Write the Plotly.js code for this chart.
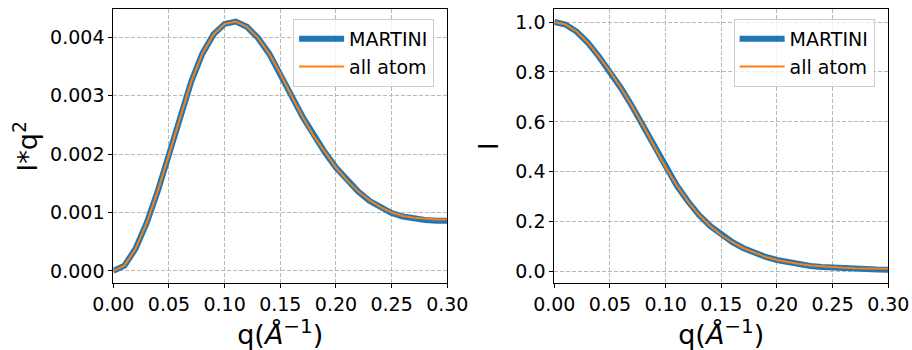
<!DOCTYPE html>
<html>
<head>
<meta charset="utf-8">
<script src="https://cdn.plot.ly/plotly-3.0.1.min.js"></script>
<style>html,body{margin:0;padding:0;background:#fff}#chart{width:912px;height:350px}</style>
</head>
<body>
<div id="chart"></div>
<script>
// q values (1/Angstrom)
const q = [0.00,0.01,0.02,0.03,0.04,0.05,0.06,0.07,0.08,0.09,0.10,0.11,0.12,0.13,0.14,0.15,
           0.16,0.17,0.18,0.19,0.20,0.21,0.22,0.23,0.24,0.25,0.26,0.27,0.28,0.29,0.30];

// Kratky-type I*q^2
const iq2Martini = [0.00000,0.00009,0.00038,0.00082,0.00137,0.00200,0.00265,0.00324,0.00372,0.00405,0.00423,0.00427,0.00418,0.00399,0.00372,0.00338,
                    0.00300,0.00264,0.00231,0.00203,0.00177,0.00155,0.00136,0.00120,0.00108,0.00099,0.00093,0.00089,0.00087,0.00086,0.00086];
const iq2AllAtom = [0.00000,0.00009,0.00038,0.00082,0.00137,0.00200,0.00265,0.00324,0.00372,0.00405,0.00423,0.00427,0.00418,0.00399,0.00372,0.00338,
                    0.00300,0.00264,0.00231,0.00203,0.00177,0.00155,0.00136,0.00121,0.00109,0.00100,0.00094,0.00091,0.00089,0.00088,0.00088];

// Intensity I
const iMartini = [1.000,0.990,0.962,0.918,0.862,0.802,0.735,0.662,0.583,0.500,0.418,0.345,0.282,0.227,0.183,0.147,
                  0.118,0.094,0.075,0.059,0.047,0.037,0.029,0.023,0.019,0.016,0.013,0.011,0.010,0.009,0.008];
const iAllAtom = [1.000,0.990,0.962,0.918,0.862,0.802,0.735,0.662,0.583,0.500,0.418,0.345,0.282,0.227,0.183,0.147,
                  0.118,0.094,0.075,0.059,0.047,0.038,0.031,0.025,0.021,0.018,0.016,0.014,0.013,0.012,0.012];

const seriesNames = ['MARTINI','all atom'];
const blue = '#1f77b4', orange = '#ff7f0e';
const FONT = 'DejaVu Sans, sans-serif';

const traces = [
  {x:q, y:iq2Martini, name:seriesNames[0], mode:'lines', line:{color:blue,width:6}, xaxis:'x', yaxis:'y', legend:'legend'},
  {x:q, y:iq2AllAtom, name:seriesNames[1], mode:'lines', line:{color:orange,width:2}, xaxis:'x', yaxis:'y', legend:'legend'},
  {x:q, y:iMartini, name:seriesNames[0], mode:'lines', line:{color:blue,width:6}, xaxis:'x2', yaxis:'y2', legend:'legend2'},
  {x:q, y:iAllAtom, name:seriesNames[1], mode:'lines', line:{color:orange,width:2}, xaxis:'x2', yaxis:'y2', legend:'legend2'}
];

const axBase = {
  showline:true, mirror:true, linecolor:'#000', linewidth:1,
  ticks:'outside', ticklen:4, tickcolor:'#000', tickwidth:1,
  showgrid:true, gridcolor:'#b8b8b8', griddash:'4px,2px', gridwidth:1,
  zeroline:false, tickfont:{family:FONT,size:19,color:'#000'}, automargin:false
};
const xTitle = {text:'q(<i>Å</i><sup><span style="font-size:20px">−1</span></sup>)', font:{family:FONT,size:27,color:'#000'}, standoff:4};

const yDom = [1-283.3/350, 1-9.3/350];
const legBase = {
  font:{family:FONT,size:19,color:'#000'}, bgcolor:'rgba(255,255,255,0.8)',
  bordercolor:'#cccccc', borderwidth:1, xanchor:'right', yanchor:'top', y:0.946,
  tracegroupgap:0, itemwidth:45
};

const layout = {
  width:912, height:350, margin:{l:0,r:0,t:0,b:0},
  paper_bgcolor:'#fff', plot_bgcolor:'#fff', font:{family:FONT,color:'#000'},
  xaxis: Object.assign({}, axBase, {domain:[113.3/912, 447.3/912], range:[0,0.30], dtick:0.05, tickformat:'.2f', anchor:'y', title:xTitle}),
  yaxis: Object.assign({}, axBase, {domain:yDom, range:[-0.000213,0.00448], dtick:0.001, tickformat:'.3f', anchor:'x',
          title:{text:'I*q<sup>2</sup>', font:{family:FONT,size:27,color:'#000'}, standoff:4}}),
  xaxis2: Object.assign({}, axBase, {domain:[554.3/912, 888.3/912], range:[0,0.30], dtick:0.05, tickformat:'.2f', anchor:'y2', title:xTitle}),
  yaxis2: Object.assign({}, axBase, {domain:yDom, range:[-0.0465,1.051], dtick:0.2, tickformat:'.1f', anchor:'x2',
          title:{text:'I', font:{family:FONT,size:27,color:'#000'}, standoff:8}}),
  legend: Object.assign({}, legBase, {x:0.476}),
  legend2: Object.assign({}, legBase, {x:0.959}),
  showlegend:true
};

Plotly.newPlot('chart', traces, layout, {staticPlot:true, displayModeBar:false});
</script>
</body>
</html>
